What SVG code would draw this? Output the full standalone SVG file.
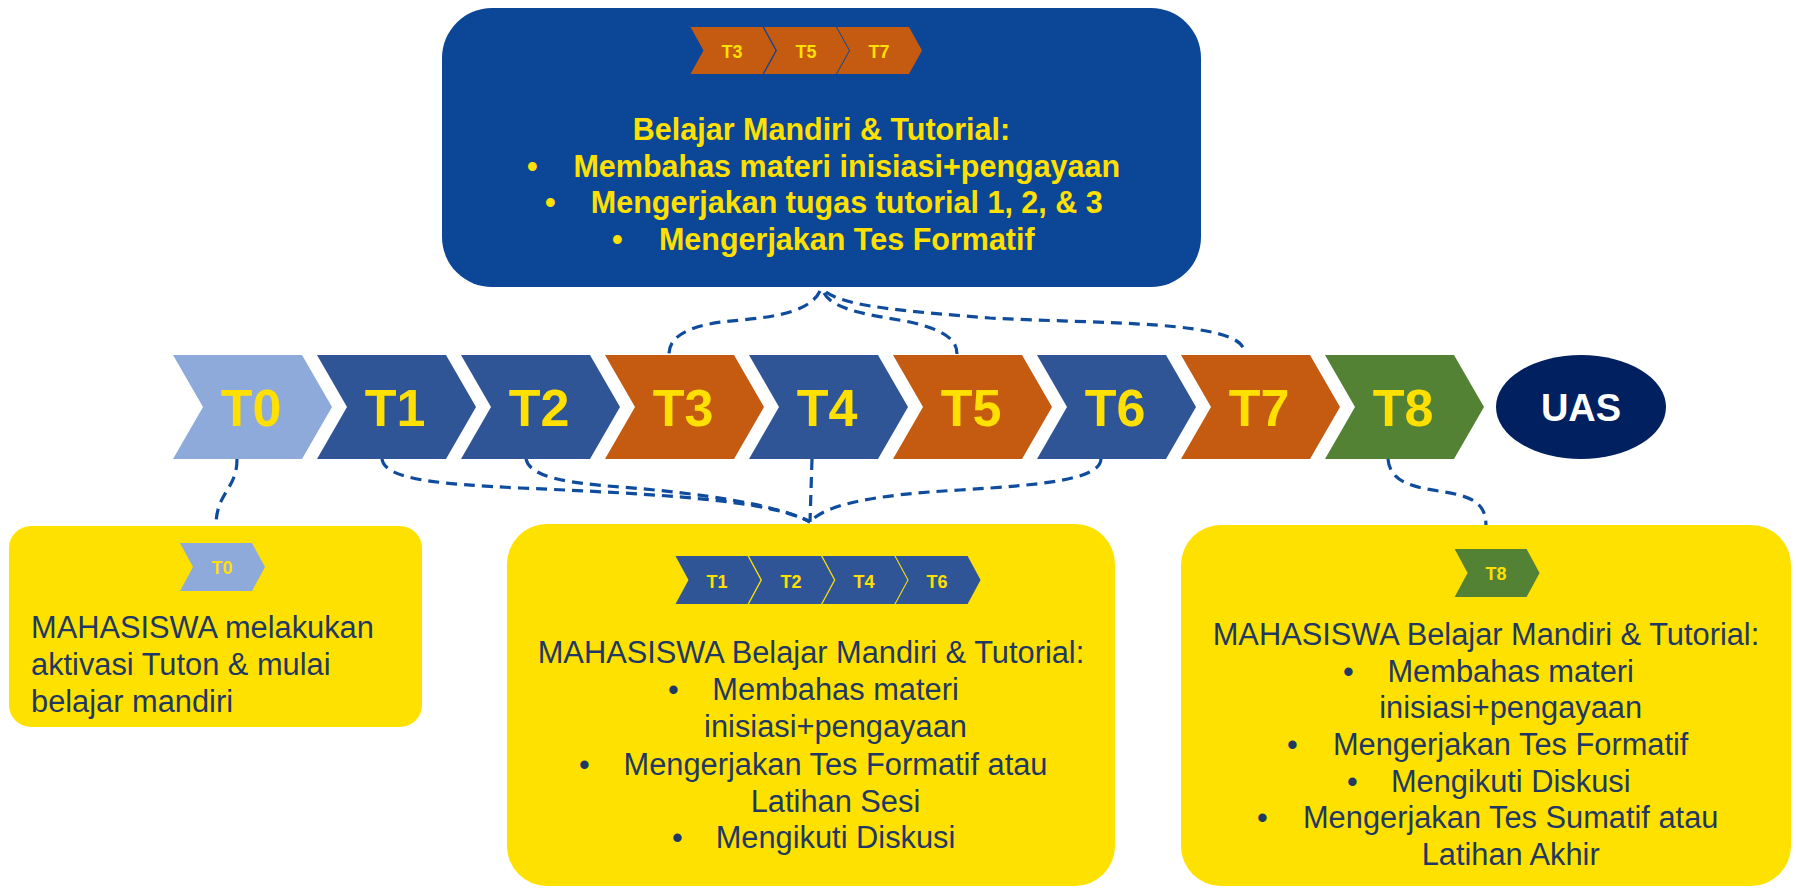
<svg xmlns="http://www.w3.org/2000/svg" width="1796" height="888" viewBox="0 0 1796 888">
<defs>
<style>
.bg{fill:#FFFFFF}
.topbox{fill:#0B4697}
.ybox{fill:#FFE100}
.lb{fill:#8EAADB}
.bl{fill:#2F5597}
.or{fill:#C55A11}
.gr{fill:#548235}
.uas{fill:#002060}
.big{font-family:"Liberation Sans",Arial,sans-serif;font-weight:bold;font-size:52px;fill:#FFE000;text-anchor:middle}
.sm{font-family:"Liberation Sans",Arial,sans-serif;font-weight:bold;font-size:18px;fill:#FFE000;text-anchor:middle}
.tb{font-family:"Liberation Sans",Arial,sans-serif;font-weight:bold;font-size:30.5px;fill:#FFE000}
.yt{font-family:"Liberation Sans",Arial,sans-serif;font-size:30.8px;fill:#1F3864}
.mid{text-anchor:middle}
.conn{fill:none;stroke:#0F4C9E;stroke-width:3.2;stroke-dasharray:11 7}
</style>
<path id="chev" d="M0,0 H129 L159,52 L129,104 H0 L30,52 Z"/>
<path id="schev" d="M0,0 H72 L85,24 L72,48 H0 L13,24 Z"/>
</defs>
<rect class="bg" x="0" y="0" width="1796" height="888"/>

<g id="connectors">
<path class="conn" d="M820,291 C808,316 760,318 722,322 C690,326 669,336 669,354"/>
<path class="conn" d="M824,293 C834,312 880,316 910,322 C945,330 957,340 957,354"/>
<path class="conn" d="M826,292 C845,306 900,311 990,318 C1100,324 1244,320 1244,352"/>
<path class="conn" d="M237,459 C237,490 216,492 216,526"/>
<path class="conn" d="M382,459 C385,480 440,484 520,488 C660,494 770,500 810,522"/>
<path class="conn" d="M526,459 C530,478 570,483 620,487 C700,493 780,505 810,522"/>
<path class="conn" d="M812,459 L810,522"/>
<path class="conn" d="M1101,459 C1100,480 1040,485 960,490 C870,495 825,505 810,522"/>
<path class="conn" d="M1388,459 C1390,485 1420,488 1445,492 C1475,497 1486,505 1486,526"/>
</g>

<g id="top-box">
<rect class="topbox" x="442" y="8" width="759" height="279" rx="50" ry="50"/>
<use href="#schev" class="or" transform="translate(690.5,27) scale(1,0.98)"/>
<use href="#schev" class="or" transform="translate(764,27) scale(1,0.98)"/>
<use href="#schev" class="or" transform="translate(837,27) scale(1,0.98)"/>
<text class="sm" x="732" y="58">T3</text>
<text class="sm" x="806" y="58">T5</text>
<text class="sm" x="879" y="58">T7</text>
<text class="tb mid" x="821.5" y="140">Belajar Mandiri &amp; Tutorial:</text>
<text class="tb" x="527" y="177">•</text>
<text class="tb mid" x="846.8" y="177">Membahas materi inisiasi+pengayaan</text>
<text class="tb" x="545" y="213">•</text>
<text class="tb mid" x="846.8" y="213">Mengerjakan tugas tutorial 1, 2, &amp; 3</text>
<text class="tb" x="612" y="250">•</text>
<text class="tb mid" x="846.8" y="250">Mengerjakan Tes Formatif</text>
</g>

<g id="T0"><use href="#chev" class="lb" x="173" y="355"/><text class="big" x="251" y="426">T0</text></g>
<g id="T1"><use href="#chev" class="bl" x="317" y="355"/><text class="big" x="395" y="426">T1</text></g>
<g id="T2"><use href="#chev" class="bl" x="461" y="355"/><text class="big" x="539" y="426">T2</text></g>
<g id="T3"><use href="#chev" class="or" x="605" y="355"/><text class="big" x="683" y="426">T3</text></g>
<g id="T4"><use href="#chev" class="bl" x="749" y="355"/><text class="big" x="827" y="426">T4</text></g>
<g id="T5"><use href="#chev" class="or" x="893" y="355"/><text class="big" x="971" y="426">T5</text></g>
<g id="T6"><use href="#chev" class="bl" x="1037" y="355"/><text class="big" x="1115" y="426">T6</text></g>
<g id="T7"><use href="#chev" class="or" x="1181" y="355"/><text class="big" x="1259" y="426">T7</text></g>
<g id="T8"><use href="#chev" class="gr" x="1325" y="355"/><text class="big" x="1403" y="426">T8</text></g>
<g id="UAS"><ellipse class="uas" cx="1581" cy="407" rx="85" ry="52"/><text class="big" x="1581" y="421" style="fill:#FFFFFF;font-size:38px">UAS</text></g>

<g id="box-T0">
<rect class="ybox" x="9" y="526" width="413" height="201" rx="22" ry="22"/>
<use href="#schev" class="lb" x="180" y="543"/>
<text class="sm" x="222" y="574">T0</text>
<text class="yt" x="31" y="638">MAHASISWA melakukan</text>
<text class="yt" x="31" y="675">aktivasi Tuton &amp; mulai</text>
<text class="yt" x="31" y="712">belajar mandiri</text>
</g>

<g id="box-T1246">
<rect class="ybox" x="507" y="524" width="608" height="362" rx="40" ry="40"/>
<use href="#schev" class="bl" x="675.5" y="556"/>
<use href="#schev" class="bl" x="749" y="556"/>
<use href="#schev" class="bl" x="822.4" y="556"/>
<use href="#schev" class="bl" x="895.6" y="556"/>
<text class="sm" x="717" y="588">T1</text>
<text class="sm" x="791" y="588">T2</text>
<text class="sm" x="864" y="588">T4</text>
<text class="sm" x="937" y="588">T6</text>
<text class="yt mid" x="811" y="663">MAHASISWA Belajar Mandiri &amp; Tutorial:</text>
<text class="yt" x="668" y="700">•</text>
<text class="yt mid" x="835.5" y="700">Membahas materi</text>
<text class="yt mid" x="835.5" y="737">inisiasi+pengayaan</text>
<text class="yt" x="579" y="775">•</text>
<text class="yt mid" x="835.5" y="775">Mengerjakan Tes Formatif atau</text>
<text class="yt mid" x="835.5" y="812">Latihan Sesi</text>
<text class="yt" x="672" y="848">•</text>
<text class="yt mid" x="835.5" y="848">Mengikuti Diskusi</text>
</g>

<g id="box-T8">
<rect class="ybox" x="1181" y="525" width="610" height="361" rx="40" ry="40"/>
<use href="#schev" class="gr" x="1454.6" y="549"/>
<text class="sm" x="1496" y="580">T8</text>
<text class="yt mid" x="1486" y="645">MAHASISWA Belajar Mandiri &amp; Tutorial:</text>
<text class="yt" x="1343" y="682">•</text>
<text class="yt mid" x="1510.7" y="682">Membahas materi</text>
<text class="yt mid" x="1510.7" y="718">inisiasi+pengayaan</text>
<text class="yt" x="1287" y="755">•</text>
<text class="yt mid" x="1510.7" y="755">Mengerjakan Tes Formatif</text>
<text class="yt" x="1347" y="792">•</text>
<text class="yt mid" x="1510.7" y="792">Mengikuti Diskusi</text>
<text class="yt" x="1257" y="828">•</text>
<text class="yt mid" x="1510.7" y="828">Mengerjakan Tes Sumatif atau</text>
<text class="yt mid" x="1510.7" y="865">Latihan Akhir</text>
</g>
</svg>
